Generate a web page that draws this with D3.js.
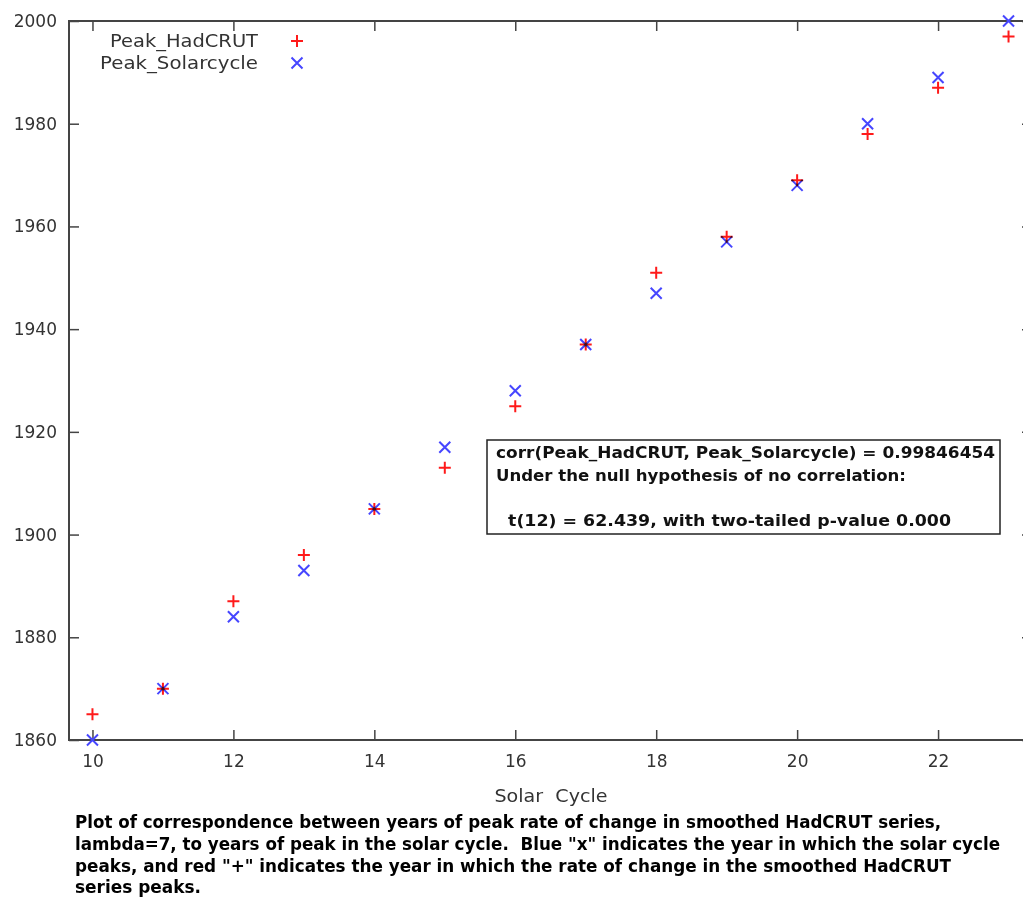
<!DOCTYPE html>
<html>
<head>
<meta charset="utf-8">
<script src="https://cdn.jsdelivr.net/npm/d3@7"></script>
<style>
  body { margin: 0; background: #fff; }
  svg { display: block; }
</style>
</head>
<body>
<svg id="chart"></svg>
<script>
// solar cycle number and peak years
const cycles = [10, 11, 12, 13, 14, 15, 16, 17, 18, 19, 20, 21, 22, 23];
const peakHadcrut = [1865, 1870, 1887, 1896, 1905, 1913, 1925, 1937, 1951, 1958, 1969, 1978, 1987, 1997];
const peakSolar = [1860, 1870, 1884, 1893, 1905, 1917, 1928, 1937, 1947, 1957, 1968, 1980, 1989, 2000];

const xTicks = [10, 12, 14, 16, 18, 20, 22];
const yTicks = [1860, 1880, 1900, 1920, 1940, 1960, 1980, 2000];

const seriesNames = ["Peak_HadCRUT", "Peak_Solarcycle"];
const statLines = [
  "corr(Peak_HadCRUT, Peak_Solarcycle) = 0.99846454",
  "Under the null hypothesis of no correlation:",
  "",
  "  t(12) = 62.439, with two-tailed p-value 0.000"
];
const captionLines = [
  "Plot of correspondence between years of peak rate of change in smoothed HadCRUT series,",
  "lambda=7, to years of peak in the solar cycle.  Blue \"x\" indicates the year in which the solar cycle",
  "peaks, and red \"+\" indicates the year in which the rate of change in the smoothed HadCRUT",
  "series peaks."
];

const w = 1023;
const h = 897;
const padL = 69, padR = 1032, padT = 21, padB = 740;

const red = "#ff1a1a";
const blue = "#4646ff";
const axisCol = "#444";

const svg = d3.select("#chart")
  .attr("width", w)
  .attr("height", h);

const xScale = d3.scaleLinear()
  .domain([9.667, 23.333])
  .range([padL, padR]);

const yScale = d3.scaleLinear()
  .domain([1860, 2000])
  .range([padB, padT]);

const data = cycles.map((c, i) => ({ c: c, had: peakHadcrut[i], sol: peakSolar[i] }));

const drawAxes = () => {
  const font = "'DejaVu Sans', Verdana, sans-serif";

  const xAxis = d3.axisBottom(xScale).tickValues(xTicks).tickSize(-10).tickPadding(15);
  const yAxis = d3.axisLeft(yScale).tickValues(yTicks).tickSize(-10).tickPadding(12)
    .tickFormat(d3.format("d"));
  const xTop = d3.axisTop(xScale).tickValues(xTicks).tickSize(-10).tickFormat("");
  const yRight = d3.axisRight(yScale).tickValues(yTicks).tickSize(-10).tickFormat("");

  const gx = svg.append("g").attr("transform", `translate(0,${padB})`).call(xAxis);
  const gy = svg.append("g").attr("transform", `translate(${padL},0)`).call(yAxis);
  const gt = svg.append("g").attr("transform", `translate(0,${padT})`).call(xTop);
  const gr = svg.append("g").attr("transform", `translate(${padR},0)`).call(yRight);

  [gx, gy, gt, gr].forEach(g => {
    g.select(".domain").remove();
    g.selectAll("line").attr("stroke", axisCol).attr("stroke-width", 1.5);
    g.selectAll("text")
      .attr("fill", "#333")
      .style("font-family", font)
      .style("font-size", "17px");
  });

  // frame
  svg.append("rect")
    .attr("x", padL).attr("y", padT)
    .attr("width", padR - padL).attr("height", padB - padT)
    .attr("fill", "none")
    .attr("stroke", axisCol)
    .attr("stroke-width", 2);

  svg.append("text")
    .attr("x", 551).attr("y", 802)
    .attr("text-anchor", "middle")
    .attr("fill", "#333")
    .style("font-family", font)
    .style("font-size", "17px")
    .attr("textLength", 113)
    .attr("lengthAdjust", "spacingAndGlyphs")
    .style("white-space", "pre")
    .text("Solar  Cycle");
};

const plusPath = (cx, cy, s) => `M${cx - s},${cy}H${cx + s}M${cx},${cy - s}V${cy + s}`;
const crossPath = (cx, cy, s) => `M${cx - s},${cy - s}L${cx + s},${cy + s}M${cx - s},${cy + s}L${cx + s},${cy - s}`;

const drawPoints = () => {
  const g = svg.append("g").style("isolation", "isolate");

  g.selectAll(".had")
    .data(data)
    .join("path")
    .attr("class", "had")
    .attr("d", d => plusPath(xScale(d.c), yScale(d.had), 6))
    .attr("stroke", red)
    .attr("stroke-width", 2)
    .attr("fill", "none")
    .style("mix-blend-mode", "multiply");

  g.selectAll(".sol")
    .data(data)
    .join("path")
    .attr("class", "sol")
    .attr("d", d => crossPath(xScale(d.c), yScale(d.sol), 5.5))
    .attr("stroke", blue)
    .attr("stroke-width", 2)
    .attr("fill", "none")
    .style("mix-blend-mode", "multiply");
};

const drawLegend = () => {
  const font = "'DejaVu Sans', Verdana, sans-serif";
  const rows = [
    { name: seriesNames[0], y: 41, w: 148, mark: (x, y) => plusPath(x, y, 6), col: red },
    { name: seriesNames[1], y: 63, w: 158, mark: (x, y) => crossPath(x, y, 5.5), col: blue }
  ];
  rows.forEach(r => {
    svg.append("text")
      .attr("x", 258).attr("y", r.y + 6)
      .attr("text-anchor", "end")
      .attr("fill", "#333")
      .style("font-family", font)
      .style("font-size", "17px")
      .attr("textLength", r.w)
      .attr("lengthAdjust", "spacingAndGlyphs")
      .text(r.name);
    svg.append("path")
      .attr("d", r.mark(297, r.y))
      .attr("stroke", r.col)
      .attr("stroke-width", 2)
      .attr("fill", "none");
  });
};

const drawStats = () => {
  svg.append("rect")
    .attr("x", 487).attr("y", 440)
    .attr("width", 513).attr("height", 94)
    .attr("fill", "#fff")
    .attr("stroke", "#222")
    .attr("stroke-width", 1.5);

  const widths = [499, 410, 0, 455];
  const ys = [458, 481, 504, 526];
  statLines.forEach((t, i) => {
    if (!t) return;
    svg.append("text")
      .attr("x", 496).attr("y", ys[i])
      .attr("fill", "#111")
      .style("font-family", "'DejaVu Sans', Tahoma, sans-serif")
      .style("font-weight", "bold")
      .style("font-size", "15px")
      .style("white-space", "pre")
      .attr("textLength", widths[i])
      .attr("lengthAdjust", "spacingAndGlyphs")
      .text(t);
  });
};

const drawCaption = () => {
  const widths = [866, 925, 876, 126];
  const ys = [828, 850, 872, 893];
  captionLines.forEach((t, i) => {
    svg.append("text")
      .attr("x", 75).attr("y", ys[i])
      .attr("fill", "#000")
      .style("font-family", "'Liberation Sans Narrow', 'DejaVu Sans Condensed', sans-serif")
      .style("font-weight", "bold")
      .style("font-size", "17px")
      .style("white-space", "pre")
      .attr("textLength", widths[i])
      .attr("lengthAdjust", "spacingAndGlyphs")
      .text(t);
  });
};

drawAxes();
drawPoints();
drawLegend();
drawStats();
drawCaption();
</script>
</body>
</html>
